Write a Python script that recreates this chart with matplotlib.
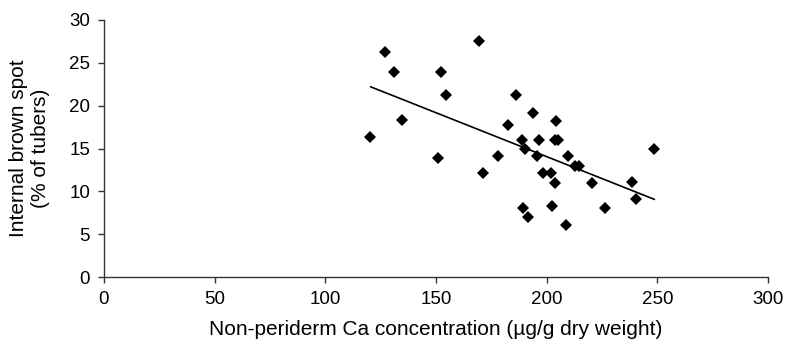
import matplotlib
matplotlib.use("Agg")
import matplotlib.pyplot as plt

plt.rcParams['font.family'] = ['Liberation Sans', 'DejaVu Sans']

ca_conc = [120.2, 127.0, 131.1, 134.7, 150.8, 152.1, 154.4, 169.5, 171.1, 177.9,
           182.7, 186.1, 188.7, 189.1, 190.0, 191.6, 193.6, 195.8, 196.4, 198.3,
           202.0, 202.4, 203.6, 203.8, 204.9, 204.2, 208.9, 209.5, 212.9, 214.7,
           220.4, 226.5, 238.5, 240.3, 248.6]
brown_spot = [16.3, 26.3, 23.9, 18.3, 13.85, 23.9, 21.2, 27.6, 12.1, 14.1,
              17.8, 21.2, 16.0, 8.1, 15.0, 7.0, 19.1, 14.1, 16.0, 12.1,
              12.1, 8.3, 11.0, 16.0, 16.0, 18.2, 6.07, 14.1, 13.0, 13.0,
              11.0, 8.1, 11.05, 9.07, 15.0]
trend_x = [120.5, 248.6]
trend_y = [22.2, 9.07]

xticks = [0, 50, 100, 150, 200, 250, 300]
yticks = [0, 5, 10, 15, 20, 25, 30]

fig = plt.figure(figsize=(7.86, 3.48), dpi=100)
ax = fig.add_axes([104/786, 71/348, (768-104)/786, (277-20)/348])

ax.plot(ca_conc, brown_spot, linestyle='none', marker='D', markersize=6,
        color='black', markeredgewidth=0)
ax.plot(trend_x, trend_y, color='black', linewidth=1.2)

ax.set_xlim(0, 300)
ax.set_ylim(0, 30)
ax.set_xticks(xticks)
ax.set_yticks(yticks)
for s in ['top', 'right']:
    ax.spines[s].set_visible(False)
for s in ['left', 'bottom']:
    ax.spines[s].set_color('#333333')
    ax.spines[s].set_linewidth(1.0)
ax.tick_params(axis='both', direction='out', length=4, width=1.0,
               color='#333333', labelsize=13.5, pad=6)
ax.set_xlabel('Non-periderm Ca concentration (µg/g dry weight)', fontsize=15, labelpad=9)
ax.set_ylabel('Internal brown spot\n(% of tubers)', fontsize=15, labelpad=14)

fig.savefig('out.png', dpi=100)
